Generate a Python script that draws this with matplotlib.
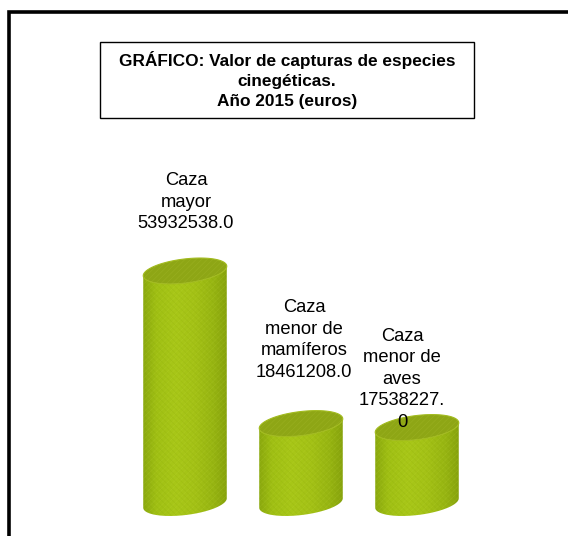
import numpy as np
import matplotlib
matplotlib.use("Agg")
import matplotlib.pyplot as plt
from matplotlib.patches import Rectangle, Polygon
from matplotlib.transforms import IdentityTransform
from matplotlib.colors import LinearSegmentedColormap

# ---- datos ----
categorias = ["Caza\nmayor", "Caza\nmenor de\nmamíferos", "Caza\nmenor de\naves"]
valores = [53932538.0, 18461208.0, 17538227.0]
etiquetas = ["Caza\nmayor\n53932538.0",
             "Caza\nmenor de\nmamíferos\n18461208.0",
             "Caza\nmenor de\naves\n17538227.\n0"]
titulo = "GRÁFICO: Valor de capturas de especies\ncinegéticas.\nAño 2015 (euros)"

plt.rcParams['font.family'] = ['Liberation Sans', 'DejaVu Sans']
plt.rcParams['hatch.linewidth'] = 0.5

W, H = 568, 536
fig = plt.figure(figsize=(W / 100, H / 100), dpi=100)
ax = fig.add_axes([0, 0, 1, 1])
ax.axis('off')

# escala: x=0 -> 185 px, 1 unidad = 116 px ; y=0 -> 33 px desde abajo, max -> 266 px
px_x = 116.0
ax.set_xlim(-185 / px_x, (W - 185) / px_x)
vmax = max(valores)
px_y = 232.0 / vmax
ax.set_ylim(-33 / px_y, (H - 33) / px_y)
ax.set_autoscale_on(False)

ancho = 0.72
b = 12.0                 # semieje menor de la elipse (px)
theta = np.radians(7)    # inclinacion de la perspectiva

cmap_cuerpo = LinearSegmentedColormap.from_list(
    "cuerpo", ["#819e0c", "#a0c014", "#a8c718", "#a4c216", "#97b512", "#809b0b"])
grad = np.linspace(0, 1, 256).reshape(1, -1)

def elipse(cx, cy, a, t):
    x = cx + a * np.cos(t) * np.cos(theta) - b * np.sin(t) * np.sin(theta)
    y = cy + a * np.cos(t) * np.sin(theta) + b * np.sin(t) * np.cos(theta)
    return np.column_stack([x, y])

to_px = ax.transData.transform
for i, v in enumerate(valores):
    cx, cy_top = to_px((i, v))
    _, cy_bot = to_px((i, 0))
    xl, _ = to_px((i - ancho / 2, 0))
    xr, _ = to_px((i + ancho / 2, 0))
    hx = (xr - xl) / 2
    a = np.sqrt((hx ** 2 - (b * np.sin(theta)) ** 2) / np.cos(theta) ** 2)
    t_r = np.arctan2(-b * np.sin(theta), a * np.cos(theta))
    t_low = np.linspace(t_r + np.pi, t_r + 2 * np.pi, 80)
    arco_bot = elipse(cx, cy_bot, a, t_low)
    arco_top = elipse(cx, cy_top, a, t_low)[::-1]
    cuerpo = np.vstack([arco_bot, arco_top])

    body = Polygon(cuerpo, closed=True, transform=IdentityTransform(),
                   facecolor="none", edgecolor="none")
    ax.add_patch(body)
    img = ax.imshow(grad, cmap=cmap_cuerpo, aspect='auto',
                    extent=(i - ancho / 2 - 0.05, i + ancho / 2 + 0.05,
                            -30 / px_y, v + 30 / px_y), zorder=2)
    img.set_clip_path(body)
    ax.add_patch(Polygon(cuerpo, closed=True, transform=IdentityTransform(),
                         facecolor="none", edgecolor=(0.8, 0.88, 0.3, 0.16),
                         hatch="//////", linewidth=0, zorder=3))
    ax.add_patch(Polygon(cuerpo, closed=True, transform=IdentityTransform(),
                         facecolor="none", edgecolor=(0.45, 0.55, 0.0, 0.12),
                         hatch="\\\\\\\\\\\\", linewidth=0, zorder=3))

    tapa = elipse(cx, cy_top, a, np.linspace(0, 2 * np.pi, 160))
    ax.add_patch(Polygon(tapa, closed=True, transform=IdentityTransform(),
                         facecolor="#8ea615", edgecolor="#a2bb1e",
                         linewidth=0.8, zorder=4))
    ax.add_patch(Polygon(tapa, closed=True, transform=IdentityTransform(),
                         facecolor="none", edgecolor=(0.78, 0.85, 0.3, 0.16),
                         hatch="//////", linewidth=0, zorder=5))

# etiquetas de datos
desplaz = [(1, 39), (3, 43), (-15, -3)]
for i, (v, txt) in enumerate(zip(valores, etiquetas)):
    ax.annotate(txt, xy=(i, v), xytext=desplaz[i], textcoords='offset pixels',
                ha='center', va='bottom', fontsize=13.2, linespacing=1.34,
                color='black', zorder=6)

# titulo con recuadro
fig.patches.append(Rectangle((100, H - 118), 374, 76, transform=IdentityTransform(),
                             facecolor='white', edgecolor='black', linewidth=1.0,
                             figure=fig))
fig.text(287, H - 80, titulo, transform=IdentityTransform(), ha='center', va='center',
         fontsize=12.4, fontweight='bold', linespacing=1.38)

# marco exterior (recortado por la imagen a la derecha y abajo)
fig.patches.append(Rectangle((9, -20), 620, H - 12 + 20, transform=IdentityTransform(),
                             facecolor='none', edgecolor='black', linewidth=2.6,
                             figure=fig))

fig.savefig("out.png", dpi=100)
